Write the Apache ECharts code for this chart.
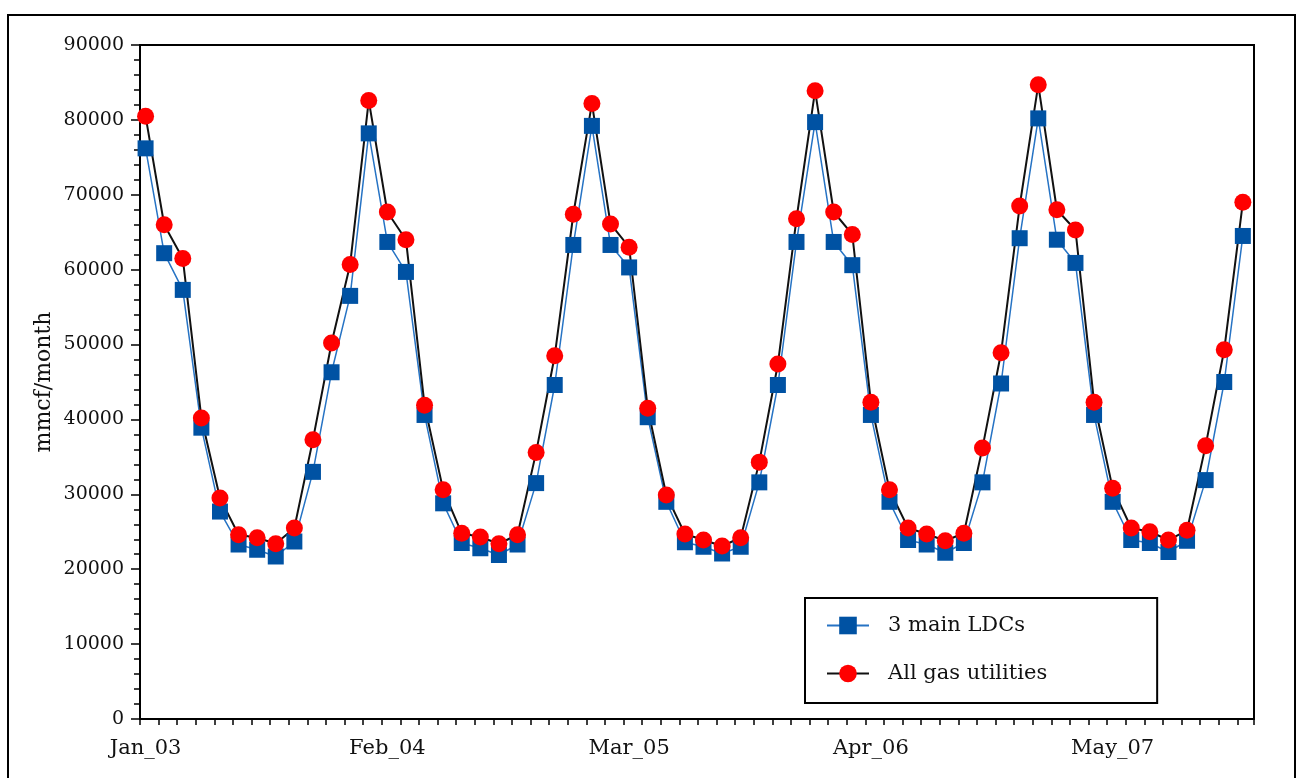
<!DOCTYPE html>
<html>
<head>
<meta charset="utf-8">
<script src="https://cdn.jsdelivr.net/npm/echarts@6/dist/echarts.min.js"></script>
<style>
  html, body { margin: 0; padding: 0; background: #fff; }
  #chart { width: 1301px; height: 778px; }
</style>
</head>
<body>
<div id="chart"></div>
<script>
// months Jan 2003 .. Dec 2007, labels as in the original (Mon_yy)
const monthNames = ['Jan', 'Feb', 'Mar', 'Apr', 'May', 'Jun', 'Jul', 'Aug', 'Sep', 'Oct', 'Nov', 'Dec']
const years = ['03', '04', '05', '06', '07']
const categories = []
years.forEach(y => monthNames.forEach(m => categories.push(`${m}_${y}`)))

// only every 13th month gets a label
const labelIdx = [0, 13, 26, 39, 52]

// 3 main LDCs (mmcf/month)
const ldcs = [
  76200, 62200, 57300, 38900, 27700, 23300, 22600, 21700, 23700, 33000, 46300, 56500,
  78200, 63700, 59700, 40600, 28800, 23500, 22800, 21900, 23300, 31500, 44600, 63300,
  79200, 63300, 60300, 40300, 29000, 23600, 23000, 22100, 23000, 31600, 44600, 63700,
  79700, 63700, 60600, 40600, 29000, 23900, 23300, 22200, 23500, 31600, 44800, 64200,
  80200, 64000, 60900, 40600, 29000, 23900, 23500, 22300, 23800, 31900, 45000, 64500
]

// all gas utilities (mmcf/month)
const allUtilities = [
  80500, 66000, 61500, 40200, 29500, 24600, 24200, 23400, 25500, 37300, 50200, 60700,
  82600, 67700, 64000, 41900, 30600, 24800, 24300, 23400, 24600, 35600, 48500, 67400,
  82200, 66100, 63000, 41500, 29900, 24700, 23900, 23100, 24200, 34300, 47400, 66800,
  83900, 67700, 64700, 42300, 30600, 25500, 24700, 23800, 24800, 36200, 48900, 68500,
  84700, 68000, 65300, 42300, 30800, 25500, 25000, 23900, 25200, 36500, 49300, 69000
]

const yTicks = { min: 0, max: 90000, step: 10000 }

const serif = '"DejaVu Serif", "Liberation Serif", serif'

const option = {
  backgroundColor: '#fff',
  animation: false,
  graphic: [{
    type: 'rect',
    shape: { x: 8, y: 15, width: 1287, height: 800 },
    style: { fill: 'none', stroke: '#000', lineWidth: 2 },
    silent: true
  }],
  grid: {
    left: 140, right: 47, top: 45, bottom: 59,
    show: true, borderColor: '#000', borderWidth: 2, backgroundColor: 'transparent'
  },
  legend: {
    orient: 'vertical',
    left: 805, top: 598,
    backgroundColor: '#fff',
    borderColor: '#000', borderWidth: 2, borderRadius: 0,
    padding: [17, 110, 19, 21],
    itemWidth: 42, itemHeight: 22, itemGap: 27,
    textStyle: { fontFamily: serif, fontSize: 21, color: '#111', padding: [0, 0, 0, 14] },
    data: ['3 main LDCs', 'All gas utilities']
  },
  xAxis: [{
    // data axis: month index, slight offset so month 0 sits right of the left frame
    type: 'value',
    min: -0.3, max: 59.6,
    axisLine: { show: true, onZero: false, lineStyle: { color: '#000', width: 2 } },
    axisTick: { show: false },
    splitLine: { show: false },
    axisLabel: {
      margin: 19,
      customValues: labelIdx,
      fontFamily: serif, fontSize: 21, color: '#111',
      formatter: v => categories[Math.round(v)]
    }
  }, {
    // tick-only axis, one tick per month boundary
    type: 'value',
    min: 0, max: 59.9, interval: 1,
    position: 'bottom',
    axisLine: { show: false },
    axisTick: { show: true, length: 6, lineStyle: { color: '#000', width: 1.5 } },
    axisLabel: { show: false },
    splitLine: { show: false }
  }],
  yAxis: {
    type: 'value',
    min: yTicks.min, max: yTicks.max, interval: yTicks.step,
    name: 'mmcf/month',
    nameLocation: 'middle',
    nameGap: 85,
    nameMoveOverlap: false,
    nameRotate: 90,
    nameTextStyle: { fontFamily: serif, fontSize: 22, color: '#111' },
    axisLine: { show: true, onZero: false, lineStyle: { color: '#000', width: 2 } },
    axisTick: { show: true, length: 9, lineStyle: { color: '#000', width: 1.5 } },
    minorTick: { show: true, splitNumber: 5, length: 6, lineStyle: { color: '#000', width: 1.5 } },
    splitLine: { show: false },
    axisLabel: { margin: 16, fontFamily: serif, fontSize: 19, color: '#111', formatter: v => String(v) }
  },
  series: [{
    name: '3 main LDCs',
    type: 'line',
    xAxisIndex: 0,
    data: ldcs.map((v, i) => [i, v]),
    symbol: 'rect',
    symbolSize: 16,
    itemStyle: { color: '#0052a3' },
    lineStyle: { color: '#2673c4', width: 1.5 }
  }, {
    name: 'All gas utilities',
    type: 'line',
    xAxisIndex: 0,
    data: allUtilities.map((v, i) => [i, v]),
    symbol: 'circle',
    symbolSize: 17,
    itemStyle: { color: '#ff0000' },
    lineStyle: { color: '#111', width: 2 }
  }]
}

const chart = echarts.init(document.getElementById('chart'), null, { renderer: 'canvas' })
chart.setOption(option)
</script>
</body>
</html>
